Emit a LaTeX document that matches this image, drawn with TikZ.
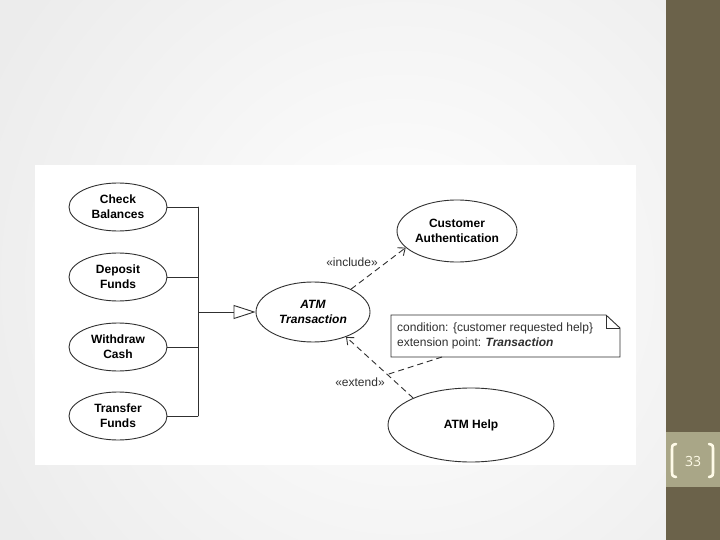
\documentclass[tikz,border=0pt]{standalone}
\usepackage{fontspec}
\setmainfont{Liberation Sans}
\newfontfamily\slidenumfont{Open Sans}
\usepackage{tikz}
\usepackage{tkz-euclide}
\usetikzlibrary{arrows, arrows.meta, calc, shapes.geometric}

\definecolor{bggray}{HTML}{ECECEC}
\definecolor{bandolive}{HTML}{6B624A}
\definecolor{bandlight}{HTML}{A9A687}
\definecolor{numcream}{HTML}{FFFBE8}
\definecolor{umlline}{HTML}{303030}

\tikzset{
  usecase/.style={ellipse, draw=umlline, line width=0.9pt, fill=white, inner sep=0pt,
    align=center, font=\bfseries\fontsize{12}{15}\selectfont},
  stereo/.style={font=\fontsize{12}{14}\selectfont, text=umlline},
  depline/.style={draw=umlline, line width=0.9pt, dash pattern=on 6pt off 4pt},
  bracketline/.style={draw=numcream, line width=2.6pt, line cap=round}
}

\begin{document}
\begin{tikzpicture}[x=1pt, y=-1pt]
    \useasboundingbox (0,0) rectangle (720,540);

    % slide background
    \fill[bggray] (0,0) rectangle (666,540);
    \begin{scope}
      \clip (0,0) rectangle (666,540);
      \shade[inner color=white, outer color=bggray] (400,280) circle (460);
    \end{scope}
    \fill[white] (35,165) rectangle (636,465);

    % right band and slide number
    \fill[bandolive] (666,0) rectangle (720,540);
    \fill[bandlight] (666,432) rectangle (720,487);
    \node[text=numcream, font=\slidenumfont\fontsize{14}{14}\selectfont] (num) at (693,461) {33};
    \draw[bracketline] (676,444) .. controls (672,445) .. (672,451) -- (672,470) .. controls (672,476) .. (676,477);
    \draw[bracketline] (709,444) .. controls (713,445) .. (713,451) -- (713,470) .. controls (713,476) .. (709,477);

    % use cases
    \node[usecase, minimum width=98pt, minimum height=48pt] (cb) at (118,207) {Check\\Balances};
    \node[usecase, minimum width=98pt, minimum height=48pt] (df) at (118,277) {Deposit\\Funds};
    \node[usecase, minimum width=98pt, minimum height=48pt] (wc) at (118,347) {Withdraw\\Cash};
    \node[usecase, minimum width=98pt, minimum height=48pt] (tf) at (118,416) {Transfer\\Funds};
    \node[usecase, minimum width=114pt, minimum height=60pt, font=\bfseries\itshape\fontsize{12}{15}\selectfont] (atm) at (313,312) {ATM\\Transaction};
    \node[usecase, minimum width=120pt, minimum height=62pt] (auth) at (457,231) {Customer\\Authentication};
    \node[usecase, minimum width=166pt, minimum height=74pt] (help) at (471,425) {ATM Help};

    % generalization tree
    \tkzDefPoint(198,207){J1}
    \tkzDefPoint(198,277){J2}
    \tkzDefPoint(198,347){J3}
    \tkzDefPoint(198,416){J4}
    \tkzDefPoint(198,312){J0}
    \draw[umlline, line width=0.9pt] (cb) -- (J1) (df) -- (J2) (wc) -- (J3) (tf) -- (J4);
    \tkzDrawSegments[color=umlline, line width=0.9pt](J1,J4)
    \draw[umlline, line width=0.9pt, -{Triangle[open, length=22pt, width=14pt]}] (J0) -- (atm);

    % include / extend
    \draw[depline, -{Straight Barb[length=6pt, width=10pt]}] (atm.31) -- (auth.198);
    \node[stereo] (inc) at (352,262) {«include»};
    \draw[depline, -{Straight Barb[length=6pt, width=10pt]}] (help.155) -- (atm.323);
    \node[stereo] (ext) at (360,382) {«extend»};

    % note
    \tkzDefPoint(391,357){NSW}
    \tkzDefPoint(620,315){NNE}
    \node[font=\fontsize{12}{14.5}\selectfont, text=umlline, align=left, inner sep=0pt,
      anchor=west] (note) at (397,336)
      {condition: \{customer requested help\}\\extension point: \textbf{\textit{Transaction}}};
    \draw[umlline, line width=0.9pt] (NSW) -- (NSW |- NNE) -- ($(NNE)+(-14,0)$)
      -- ($(NNE)+(0,13)$) -- (NNE |- NSW) -- cycle;
    \draw[umlline, line width=0.9pt] ($(NNE)+(-14,0)$) -- ++(0,13) -- ++(14,0);
    \coordinate (noteend) at (442,357);
    \coordinate (extpt) at ($(help.155)!0.385!(atm.323)$);
    \draw[depline] (noteend) -- (extpt);
\end{tikzpicture}
\end{document}
